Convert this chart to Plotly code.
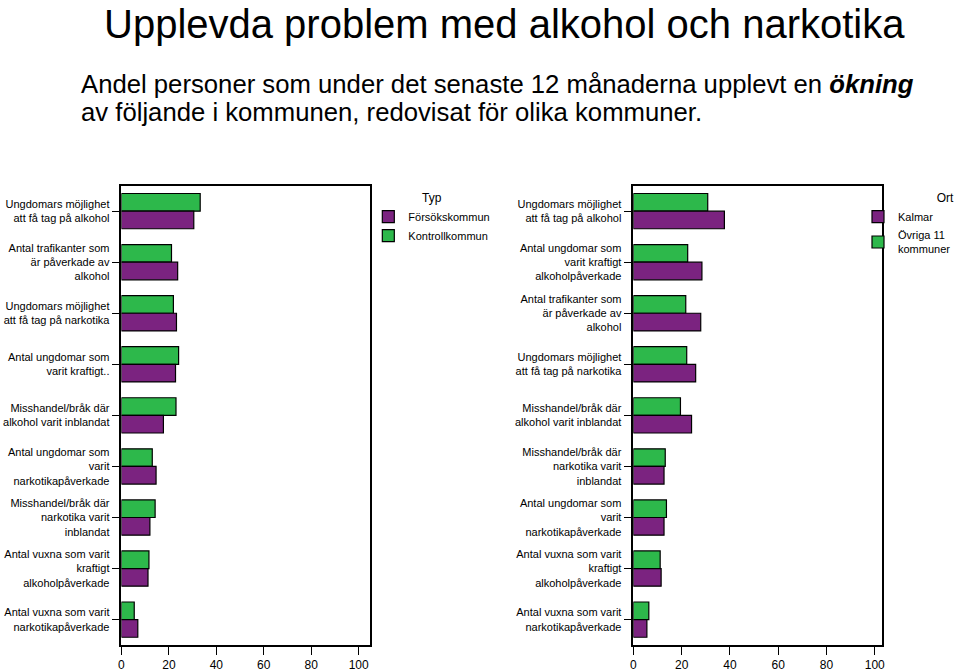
import plotly.graph_objects as go

FONT = "Liberation Sans, Arial, sans-serif"
GREEN = "#2db84b"
PURPLE = "#7b2380"

left_categories = [
    "Ungdomars möjlighet<br>att få tag på alkohol",
    "Antal trafikanter som<br>är påverkade av<br>alkohol",
    "Ungdomars möjlighet<br>att få tag på narkotika",
    "Antal ungdomar som<br>varit kraftigt..",
    "Misshandel/bråk där<br>alkohol varit inblandat",
    "Antal ungdomar som<br>varit<br>narkotikapåverkade",
    "Misshandel/bråk där<br>narkotika varit<br>inblandat",
    "Antal vuxna som varit<br>kraftigt<br>alkoholpåverkade",
    "Antal vuxna som varit<br>narkotikapåverkade",
]
left_forsok = [30.5, 23.7, 23.2, 22.8, 17.7, 14.6, 12.0, 11.2, 6.9]
left_kontroll = [33.2, 21.1, 21.9, 24.1, 23.0, 13.0, 14.2, 11.6, 5.4]

right_categories = [
    "Ungdomars möjlighet<br>att få tag på alkohol",
    "Antal ungdomar som<br>varit kraftigt<br>alkoholpåverkade",
    "Antal trafikanter som<br>är påverkade av<br>alkohol",
    "Ungdomars möjlighet<br>att få tag på narkotika",
    "Misshandel/bråk där<br>alkohol varit inblandat",
    "Misshandel/bråk där<br>narkotika varit<br>inblandat",
    "Antal ungdomar som<br>varit<br>narkotikapåverkade",
    "Antal vuxna som varit<br>kraftigt<br>alkoholpåverkade",
    "Antal vuxna som varit<br>narkotikapåverkade",
]
right_kalmar = [37.7, 28.4, 27.9, 25.8, 24.1, 12.7, 12.7, 11.5, 5.6]
right_ovriga = [30.8, 22.5, 21.7, 22.1, 19.5, 13.2, 13.7, 11.1, 6.4]

x_ticks = [0, 20, 40, 60, 80, 100]

fig = go.Figure()
line = dict(color="black", width=1.2)

fig.add_trace(go.Bar(y=left_categories, x=left_kontroll, orientation="h", name="Kontrollkommun",
                     marker=dict(color=GREEN, line=line), xaxis="x", yaxis="y",
                     legend="legend", legendrank=2))
fig.add_trace(go.Bar(y=left_categories, x=left_forsok, orientation="h", name="Försökskommun",
                     marker=dict(color=PURPLE, line=line), xaxis="x", yaxis="y",
                     legend="legend", legendrank=1))
fig.add_trace(go.Bar(y=right_categories, x=right_ovriga, orientation="h", name="Övriga 11<br>kommuner",
                     marker=dict(color=GREEN, line=line), xaxis="x2", yaxis="y2",
                     legend="legend2", legendrank=2))
fig.add_trace(go.Bar(y=right_categories, x=right_kalmar, orientation="h", name="Kalmar",
                     marker=dict(color=PURPLE, line=line), xaxis="x2", yaxis="y2",
                     legend="legend2", legendrank=1))

W, H = 960, 672
ydom = [1 - 650 / H, 1 - 187 / H]

axis_common = dict(showline=True, linecolor="black", linewidth=1.5, mirror=True,
                   ticks="outside", ticklen=8, tickcolor="black", tickwidth=1.2,
                   showgrid=False, zeroline=False)
yfont = dict(family=FONT, size=11, color="black")
xfont = dict(family=FONT, size=12, color="black")

fig.update_layout(
    width=W, height=H,
    margin=dict(l=0, r=0, t=0, b=0),
    paper_bgcolor="white", plot_bgcolor="white",
    barmode="group", bargap=0.31, bargroupgap=0,
    font=dict(family=FONT, color="black"),
    xaxis=dict(domain=[119.3 / W, 370 / W], range=[0, 104.9], tickvals=x_ticks,
               anchor="y", tickfont=xfont, **axis_common),
    yaxis=dict(domain=ydom, autorange="reversed", anchor="x", type="category",
               tickfont=yfont, **axis_common),
    xaxis2=dict(domain=[635 / W, 885 / W], range=[0, 102.8], tickvals=x_ticks,
                anchor="y2", tickfont=xfont, **axis_common),
    yaxis2=dict(domain=ydom, autorange="reversed", anchor="x2", type="category",
                tickfont=yfont, **axis_common),
    legend=dict(x=368 / W, y=1 - 188 / H, xanchor="left", yanchor="top",
                bgcolor="rgba(0,0,0,0)", font=dict(family=FONT, size=11),
                title=dict(text="Typ", side="top center", font=dict(family=FONT, size=12)),
                tracegroupgap=0, itemwidth=30),
    legend2=dict(x=1, y=1 - 188 / H, xanchor="right", yanchor="top",
                 bgcolor="rgba(0,0,0,0)", font=dict(family=FONT, size=11),
                 title=dict(text="Ort", side="top right", font=dict(family=FONT, size=12)),
                 tracegroupgap=0, itemwidth=30),
    showlegend=True,
)

fig.add_annotation(text="Upplevda problem med alkohol och narkotika", xref="paper", yref="paper",
                   x=505 / W, y=1, xanchor="center", yanchor="top", showarrow=False,
                   font=dict(family=FONT, size=40, color="black"))
fig.add_annotation(text="Andel personer som under det senaste 12 månaderna upplevt en <b><i>ökning</i></b>",
                   xref="paper", yref="paper", x=77 / W, y=1 - 85 / H, xanchor="left", yanchor="middle",
                   align="left", showarrow=False,
                   font=dict(family=FONT, size=25.7, color="black"))
fig.add_annotation(text="av följande i kommunen, redovisat för olika kommuner.",
                   xref="paper", yref="paper", x=77 / W, y=1 - 113 / H, xanchor="left", yanchor="middle",
                   align="left", showarrow=False,
                   font=dict(family=FONT, size=25.7, color="black"))

fig.write_html("out.html")
